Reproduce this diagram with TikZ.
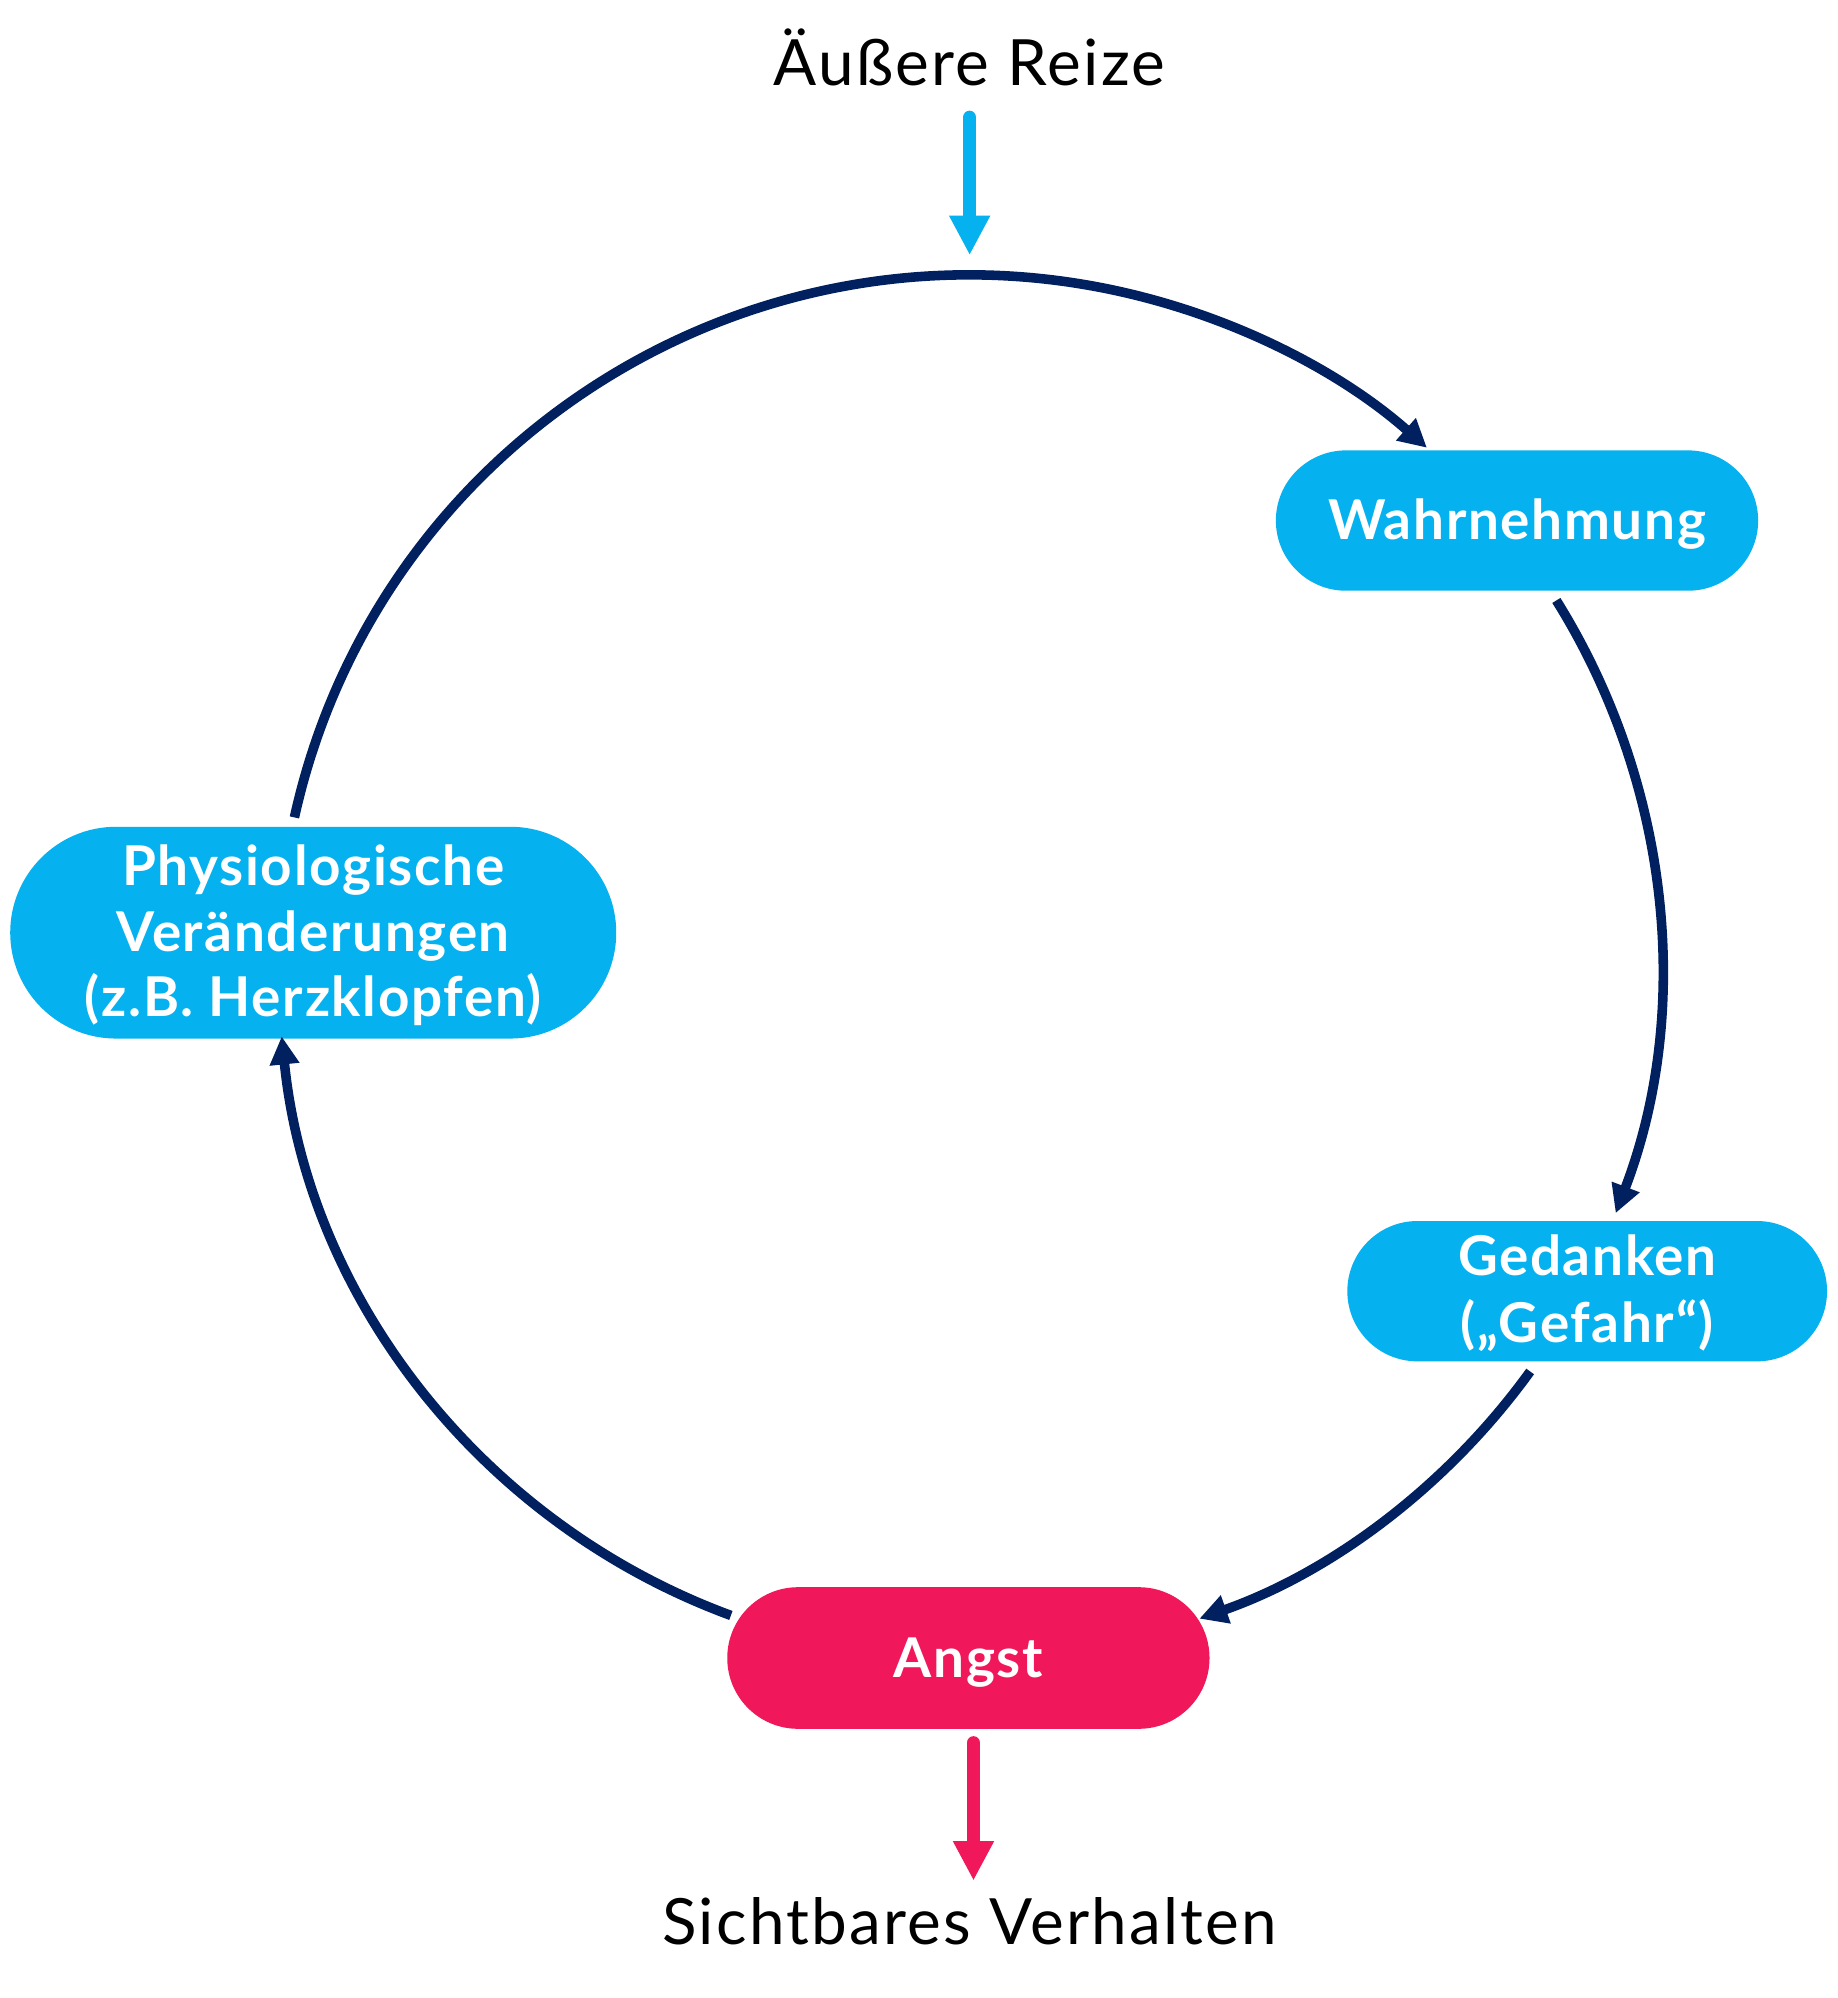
\documentclass[tikz,border=0pt]{standalone}
\usepackage{fontspec}
\setmainfont{Lato}
\newfontfamily\boxfont{Lato}[LetterSpace=3]
\newfontfamily\outerfont{Lato}[LetterSpace=3.5]
\usetikzlibrary{arrows.meta}
\definecolor{cyanc}{RGB}{5,177,239}
\definecolor{navyc}{RGB}{0,32,96}
\definecolor{pinkc}{RGB}{240,24,90}
\begin{document}
\begin{tikzpicture}[x=1pt,y=-1pt,
  box/.style={rectangle, fill=cyanc, draw=none, inner sep=0pt},
  lbl/.style={anchor=base, text=white, inner sep=0pt, font=\boxfont\fontsize{43}{50}\selectfont\bfseries},
  outer/.style={anchor=base, text=black, inner sep=0pt, font=\outerfont\fontsize{50}{60}\selectfont},
  cyc/.style={draw=navyc, line width=7.5pt, -{Triangle[length=22pt,width=22pt]}},
  bigarrow/.style={line width=10.5pt, line cap=round, -{Triangle[length=31pt,width=30pt]}}]

\useasboundingbox (0,0) rectangle (1440,1566);
\fill[white] (0,0) rectangle (1440,1566);

% boxes
\node[box, minimum width=378pt, minimum height=110pt, rounded corners=55pt] (wahr) at (1189,408) {};
\node[box, minimum width=376pt, minimum height=110pt, rounded corners=55pt] (ged) at (1244,1012) {};
\node[box, fill=pinkc, minimum width=378pt, minimum height=111pt, rounded corners=55.5pt] (angst) at (759,1299.5) {};
\node[box, minimum width=475pt, minimum height=166pt, rounded corners=83pt] (phys) at (245.5,731) {};

% labels
\node[lbl] (wahrT) at (1189,423) {Wahrnehmung};
\node[lbl] (gedT1) at (1244,1000) {Gedanken};
\node[lbl] (gedT2) at (1244,1052) {(„Gefahr“)};
\node[lbl] (angstT) at (759,1315) {Angst};
\node[lbl] (physT1) at (245.5,694) {Physiologische};
\node[lbl] (physT2) at (245.5,746) {Veränderungen};
\node[lbl] (physT3) at (245.5,797) {(z.B. Herzklopfen)};

\node[outer] (reize) at (760,67) {Äußere Reize};
\node[outer] (verh) at (760,1524) {Sichtbares Verhalten};

% circle arcs
\coordinate (c) at (760,757.5);
\path (c) ++(-167.55:542) coordinate (a1s);
\path (c) ++(-31.96:542) coordinate (a2s);
\path (c) ++(35.85:542) coordinate (a3s);
\path (c) ++(110.2:542) coordinate (a4s);
\draw[cyc] (a1s) arc[start angle=-167.55, end angle=-48.6, radius=542];
\draw[cyc] (a2s) arc[start angle=-31.96, end angle=20.9, radius=542];
\draw[cyc] (a3s) arc[start angle=35.85, end angle=70.6, radius=542];
\draw[cyc] (a4s) arc[start angle=110.2, end angle=174.2, radius=542];

% in / out arrows
\coordinate (inS) at (760,92);
\coordinate (inE) at (760,200);
\coordinate (outS) at (763,1366);
\coordinate (outE) at (763,1474);
\draw[bigarrow, draw=cyanc, fill=cyanc] (inS) -- (inE);
\draw[bigarrow, draw=pinkc, fill=pinkc] (outS) -- (outE);
\end{tikzpicture}
\end{document}
